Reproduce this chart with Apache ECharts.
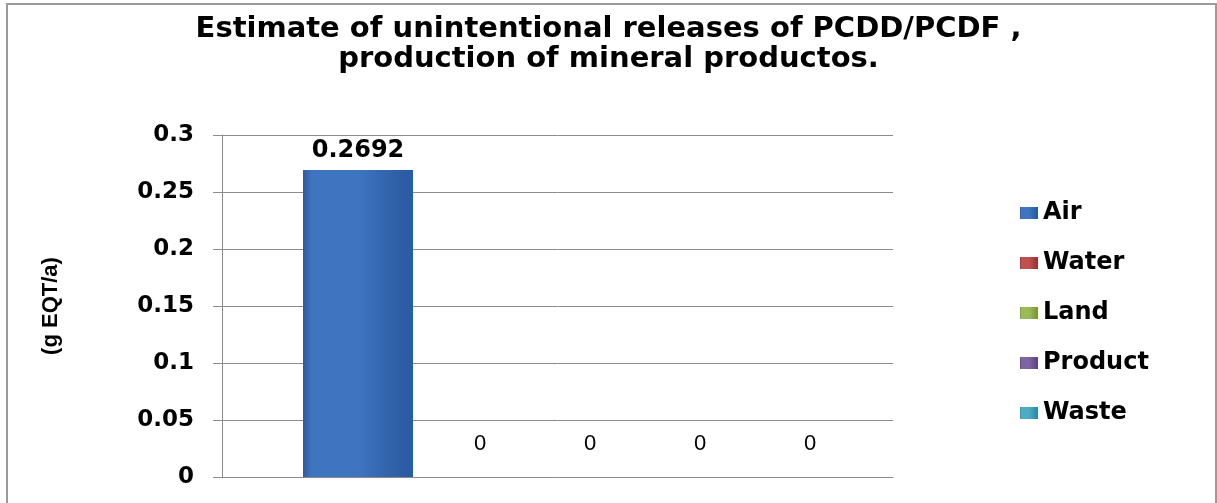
<!DOCTYPE html>
<html>
  <head>
    <meta charset="utf-8">
    <title>PCDD/PCDF mineral products</title>
    <script src="https://cdn.jsdelivr.net/npm/echarts@6/dist/echarts.min.js"></script>
    <style>
      html, body { margin: 0; padding: 0; background: #fff; }
      #chart { width: 1217px; height: 503px; }
    </style>
  </head>
  <body>
    <div id="chart"></div>
    <script type="text/javascript">
      // data
      var categories = [''];
      var seriesNames = ['Air', 'Water', 'Land', 'Product', 'Waste'];
      var seriesValues = [0.2692, 0, 0, 0, 0];
      var yAxisName = '(g EQT/a)';
      var titleText = 'Estimate of unintentional releases of PCDD/PCDF ,\nproduction of mineral productos.';

      var colors = ['#3f74c0', '#c0504d', '#9bbb59', '#8064a2', '#4bacc6'];
      var darker = ['#2b5ca3', '#9b3532', '#7a9a3a', '#5f4585', '#2e8ba5'];

      var chart = echarts.init(document.getElementById('chart'));

      var series = [{
        // spacer so the bar group sits where it does in the original
        name: '_pad',
        type: 'bar',
        data: [0],
        barWidth: 41,
        barGap: '0%',
        silent: true,
        itemStyle: { color: 'rgba(0,0,0,0)' },
        label: { show: false }
      }];

      seriesNames.forEach(function (name, i) {
        var v = seriesValues[i];
        series.push({
          name: name,
          type: 'bar',
          data: [v],
          barWidth: 110,
          barGap: '0%',
          itemStyle: {
            color: new echarts.graphic.LinearGradient(0, 0, 1, 0, [
              { offset: 0, color: darker[i] },
              { offset: 0.08, color: colors[i] },
              { offset: 0.5, color: colors[i] },
              { offset: 0.92, color: darker[i] },
              { offset: 1, color: darker[i] }
            ])
          },
          label: v > 0 ? {
            show: true,
            position: 'top',
            distance: 7,
            color: '#000',
            fontFamily: 'DejaVu Sans',
            fontWeight: 'bold',
            fontSize: 24
          } : {
            show: true,
            position: 'top',
            distance: 22,
            offset: [12, 0],
            color: '#000',
            fontFamily: 'Liberation Sans',
            fontSize: 22
          }
        });
      });

      chart.setOption({
        animation: false,
        backgroundColor: '#fff',
        color: colors,
        title: {
          text: titleText,
          left: 'center',
          top: 9,
          textStyle: {
            fontFamily: 'DejaVu Sans',
            fontWeight: 'bold',
            fontSize: 29,
            lineHeight: 30,
            color: '#000'
          }
        },
        legend: {
          data: seriesNames,
          orient: 'vertical',
          left: 1015,
          top: 196,
          itemWidth: 18,
          itemHeight: 12,
          itemGap: 26,
          icon: 'rect',
          textStyle: {
            fontFamily: 'DejaVu Sans',
            fontWeight: 'bold',
            fontSize: 24,
            color: '#000'
          }
        },
        grid: { left: 222, right: 324, top: 135, bottom: 26 },
        xAxis: {
          type: 'category',
          data: categories,
          axisLine: { lineStyle: { color: '#8c8c8c', width: 1 } },
          axisTick: { show: false },
          axisLabel: { show: false }
        },
        yAxis: {
          type: 'value',
          min: 0,
          max: 0.3,
          interval: 0.05,
          name: yAxisName,
          nameLocation: 'middle',
          nameGap: 160,
          nameRotate: 90,
          nameTextStyle: {
            fontFamily: 'Liberation Sans',
            fontWeight: 'bold',
            fontSize: 22,
            color: '#000'
          },
          axisLine: { show: true, lineStyle: { color: '#8c8c8c', width: 1 } },
          axisTick: { show: true, length: 9, lineStyle: { color: '#8c8c8c' } },
          axisLabel: {
            margin: 28,
            fontFamily: 'DejaVu Sans',
            fontWeight: 'bold',
            fontSize: 23,
            color: '#000'
          },
          splitLine: { lineStyle: { color: '#8c8c8c', width: 1 } }
        },
        graphic: [{
          type: 'rect',
          shape: { x: 7, y: 4, width: 1209, height: 520 },
          style: { fill: 'none', stroke: '#9a9a9a', lineWidth: 2 },
          silent: true,
          z: 0
        }],
        series: series
      });
    </script>
  </body>
</html>
